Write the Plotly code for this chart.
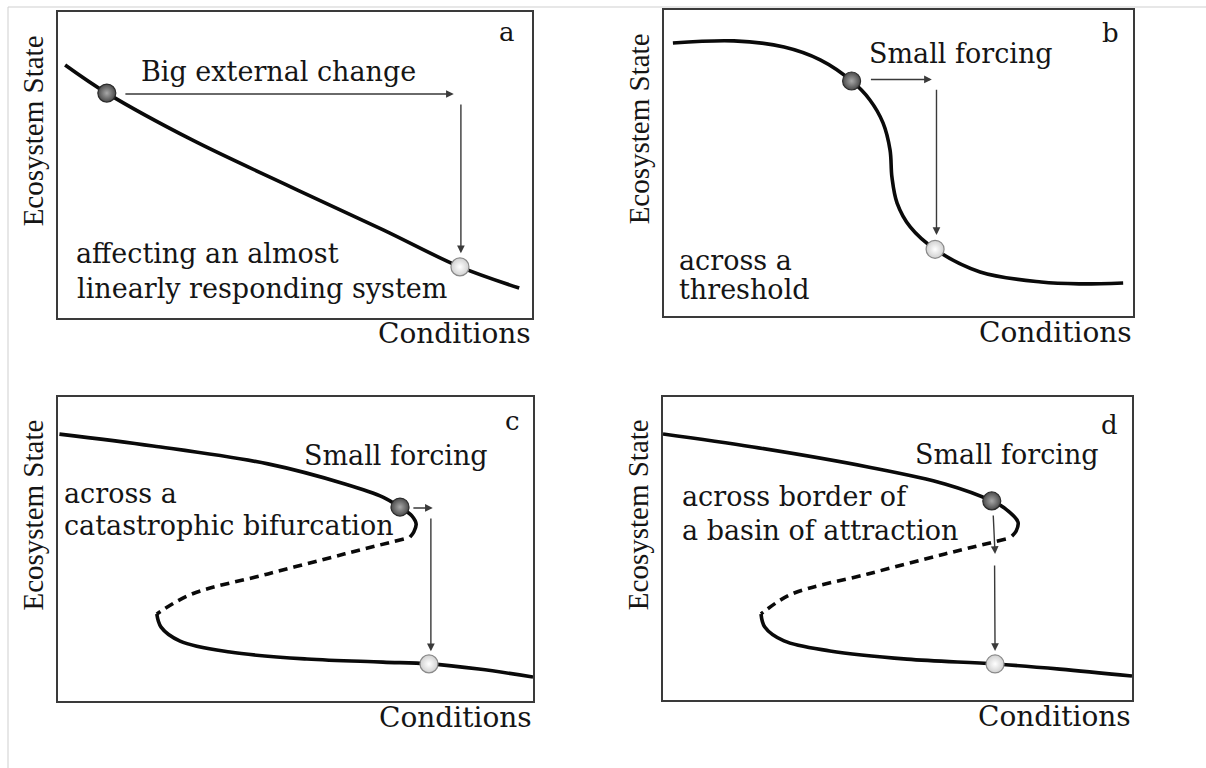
import plotly.graph_objects as go

# ---------------- data (units: 0-100 on each panel's axes) ----------------
# Panel a: almost linear response
a_curve_x = [1.5, 10.3, 28.3, 49.2, 68.6, 84.8, 97.3]
a_curve_y = [82.7, 73.5, 58.2, 42.8, 28.8, 16.7, 9.8]
a_start = (10.3, 73.5)
a_end = (84.8, 16.7)
a_arrows = [((13.9, 73.2), (83.5, 73.2)), ((85.0, 70.3), (85.0, 21.2))]

# Panel b: threshold
b_curve_x = [1.9, 14.9, 25.6, 33.3, 40.0, 43.9, 46.7, 48.2, 48.6, 49.7, 52.5, 57.8, 67.4, 80.4, 88.5, 97.9]
b_curve_y = [89.2, 89.9, 87.9, 83.7, 76.8, 70.6, 63.1, 54.2, 45.4, 36.9, 29.1, 21.8, 14.4, 11.1, 10.5, 10.8]
b_start = (40.0, 76.8)
b_end = (57.8, 21.8)
b_arrows = [((43.8, 77.3), (57.1, 77.3)), ((58.1, 74.4), (58.1, 26.5))]

# Panel c: catastrophic bifurcation
c_upper_x = [0.3, 20.0, 44.2, 60.4, 68.4, 72.0, 74.5, 75.4, 74.9, 74.1]
c_upper_y = [87.8, 83.9, 78.0, 71.4, 67.1, 63.8, 60.9, 58.2, 55.6, 53.9]
c_dash_x = [72.8, 60.4, 44.2, 28.2, 21.7, 20.8]
c_dash_y = [53.3, 48.4, 41.8, 35.2, 29.6, 28.6]
c_lower_x = [20.8, 21.7, 25.7, 36.2, 52.4, 68.4, 78.1, 88.6, 100.0]
c_lower_y = [28.6, 24.3, 19.7, 16.1, 13.8, 12.8, 12.2, 10.5, 7.9]
c_start = (72.0, 63.8)
c_end = (78.1, 12.2)
c_arrows = [((74.5, 63.5), (78.9, 63.5)), ((78.5, 60.5), (78.5, 16.4))]

# Panel d: border of a basin of attraction
d_upper_x = [0.0, 19.2, 43.7, 60.1, 70.1, 73.1, 75.7, 75.3, 74.4]
d_upper_y = [87.8, 83.5, 76.9, 71.3, 65.7, 63.0, 58.7, 55.8, 54.1]
d_dash_x = [73.1, 60.1, 43.7, 27.5, 21.7, 20.9]
d_dash_y = [53.1, 48.2, 41.6, 35.0, 29.4, 28.4]
d_lower_x = [20.9, 21.7, 25.8, 35.6, 52.0, 70.8, 84.6, 100.0]
d_lower_y = [28.4, 24.1, 19.5, 16.2, 13.5, 11.9, 10.2, 7.9]
d_start = (70.1, 65.7)
d_end = (70.8, 11.9)
d_arrows = [((70.4, 61.4), (70.8, 48.2)), ((70.7, 44.9), (70.8, 16.2))]

# Texts
panel_letters = ["a", "b", "c", "d"]
letter_pos = [(94.7, 93.5), (95.3, 92.5), (95.6, 92.1), (95.2, 90.8)]
# (text, x, y, xanchor)
panel_texts = [
    [("Big external change", 46.6, 80.7, "center"),
     ("affecting an almost", 3.3, 21.2, "left"),
     ("linearly responding system", 3.5, 9.8, "left")],
    [("Small forcing", 63.4, 85.9, "center"),
     ("across a", 2.8, 18.3, "left"),
     ("threshold", 2.8, 8.5, "left")],
    [("Small forcing", 71.1, 80.9, "center"),
     ("across a", 0.8, 68.4, "left"),
     ("catastrophic bifurcation", 0.8, 57.6, "left")],
    [("Small forcing", 73.3, 80.9, "center"),
     ("across border of", 3.6, 67.0, "left"),
     ("a basin of attraction", 3.6, 56.1, "left")],
]
x_title = "Conditions"
y_title = "Ecosystem State"

# ---------------- layout geometry ----------------
W, H = 1206, 768
# panel boxes in pixels: left, right, top, bottom
boxes = [(58, 532, 12, 318), (664, 1133, 10, 316), (58, 533, 397, 701), (663, 1132, 397, 700)]

SERIF = "DejaVu Serif"
TIMES = "Liberation Serif"
TXT = "#151515"
LINE = "#0a0a0a"

fig = go.Figure()
layout = dict(width=W, height=H, margin=dict(l=0, r=0, t=0, b=0),
              paper_bgcolor="white", plot_bgcolor="white", showlegend=False)
annotations = []
shapes = []


def axname(i, kind):
    return kind + ("" if i == 0 else str(i + 1))


solid = dict(color=LINE, width=3.6)
dashed = dict(color=LINE, width=3.6, dash="9px,6px")

curves = [
    [(a_curve_x, a_curve_y, solid)],
    [(b_curve_x, b_curve_y, solid)],
    [(c_upper_x, c_upper_y, solid), (c_dash_x, c_dash_y, dashed), (c_lower_x, c_lower_y, solid)],
    [(d_upper_x, d_upper_y, solid), (d_dash_x, d_dash_y, dashed), (d_lower_x, d_lower_y, solid)],
]
starts = [a_start, b_start, c_start, d_start]
ends = [a_end, b_end, c_end, d_end]
arrows = [a_arrows, b_arrows, c_arrows, d_arrows]

for i in range(4):
    L, R, T, B = boxes[i]
    xa, ya = axname(i, "xaxis"), axname(i, "yaxis")
    xr, yr = axname(i, "x"), axname(i, "y")
    common = dict(range=[0, 100], showgrid=False, zeroline=False, showticklabels=False,
                  ticks="", showline=True, mirror=True, linecolor="#3a3a3a", linewidth=2,
                  fixedrange=True)
    layout[xa] = dict(domain=[L / W, R / W], anchor=yr, **common)
    layout[ya] = dict(domain=[1 - B / H, 1 - T / H], anchor=xr, **common)

    for cx, cy, ln in curves[i]:
        fig.add_trace(go.Scatter(x=cx, y=cy, mode="lines", line=dict(shape="spline", smoothing=1.0, **ln),
                                 xaxis=xr, yaxis=yr, hoverinfo="skip"))

    for (tx, ty), (hx, hy) in arrows[i]:
        annotations.append(dict(x=hx, y=hy, ax=tx, ay=ty, xref=xr, yref=yr, axref=xr, ayref=yr,
                                text="", showarrow=True, arrowhead=2, arrowsize=1.1,
                                arrowwidth=1.4, arrowcolor="#3a3a3a"))

    sx, sy = starts[i]
    ex, ey = ends[i]
    # radial gradient: gradient.color is the centre colour, marker.color the rim
    fig.add_trace(go.Scatter(x=[sx], y=[sy], mode="markers", xaxis=xr, yaxis=yr, hoverinfo="skip",
                             marker=dict(size=18, color="#4a4a4a", gradient=dict(type="radial", color="#a8a8a8"),
                                         line=dict(color="#2a2a2a", width=1.2))))
    fig.add_trace(go.Scatter(x=[ex], y=[ey], mode="markers", xaxis=xr, yaxis=yr, hoverinfo="skip",
                             marker=dict(size=18, color="#d0d0d0", gradient=dict(type="radial", color="#ffffff"),
                                         line=dict(color="#8a8a8a", width=1.2))))

    lx, ly = letter_pos[i]
    annotations.append(dict(x=lx, y=ly, xref=xr, yref=yr, text=panel_letters[i], showarrow=False,
                            font=dict(family=SERIF, size=26, color=TXT), xanchor="center", yanchor="middle"))
    for t, tx, ty, anc in panel_texts[i]:
        annotations.append(dict(x=tx, y=ty, xref=xr, yref=yr, text=t, showarrow=False,
                                font=dict(family=SERIF, size=27, color=TXT), xanchor=anc, yanchor="middle"))

    # axis titles
    annotations.append(dict(x=R / W + 0.001, y=1 - (B + 16) / H, xref="paper", yref="paper", text=x_title,
                            showarrow=False, font=dict(family=SERIF, size=28, color=TXT),
                            xanchor="right", yanchor="middle"))
    annotations.append(dict(x=(L - 25) / W, y=1 - (T + 0.39 * (B - T)) / H, xref="paper", yref="paper",
                            text=y_title, textangle=-90, showarrow=False,
                            font=dict(family=TIMES, size=29, color=TXT),
                            xanchor="center", yanchor="middle"))

# thin outer frame (top and left edges)
shapes.append(dict(type="line", xref="paper", yref="paper", x0=8 / W, x1=1, y0=1 - 7 / H, y1=1 - 7 / H,
                   line=dict(color="#cfcfcf", width=1)))
shapes.append(dict(type="line", xref="paper", yref="paper", x0=8 / W, x1=8 / W, y0=0, y1=1 - 7 / H,
                   line=dict(color="#cfcfcf", width=1)))

layout["annotations"] = annotations
layout["shapes"] = shapes
fig.update_layout(**layout)
fig.write_html("out.html", config={"displayModeBar": False})
